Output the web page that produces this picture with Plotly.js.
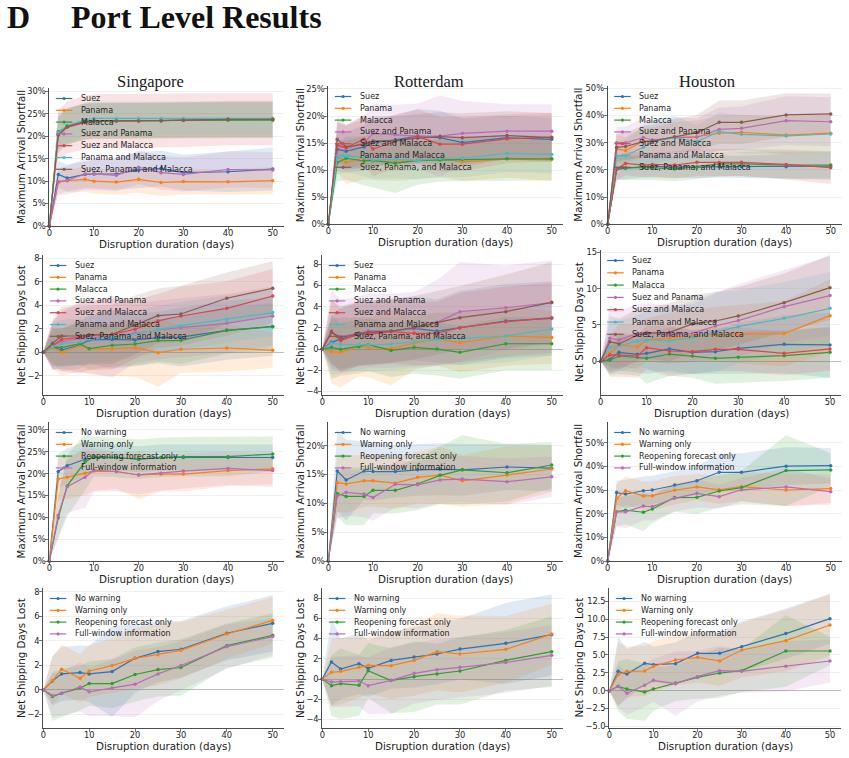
<!DOCTYPE html>
<html>
<head>
<meta charset="utf-8">
<script src="https://cdn.plot.ly/plotly-3.0.1.min.js"></script>
<style>
html, body { margin: 0; padding: 0; background: #fff; }
#chart { width: 849px; height: 758px; }
</style>
</head>
<body>
<div id="chart"></div>
<script>
// Disruption durations (days) shared by every panel
const days = [0, 2, 4, 8, 10, 15, 20, 25, 30, 40, 50];

const corridorNames = ['Suez', 'Panama', 'Malacca', 'Suez and Panama', 'Suez and Malacca',
  'Panama and Malacca', 'Suez, Panama, and Malacca'];
const infoNames = ['No warning', 'Warning only', 'Reopening forecast only', 'Full-window information'];

const portTitles = ['Singapore', 'Rotterdam', 'Houston'];

// Maximum arrival shortfall (%) by closed corridor — mean per duration
const sgpShortfall = [
  [0, 11.5, 10.7, 11.5, 11.6, 11.6, 12.5, 12.8, 11.9, 12.1, 12.7],
  [0, 9.7, 10.1, 10.4, 10.0, 9.8, 10.4, 9.7, 9.9, 9.85, 10.1],
  [0, 21.0, 22.2, 23.3, 23.5, 23.5, 23.5, 23.5, 23.6, 23.6, 23.6],
  [0, 9.9, 10.2, 11.6, 11.6, 11.3, 13.1, 11.9, 11.5, 12.6, 12.5],
  [0, 20.3, 22.0, 23.1, 23.4, 23.4, 23.5, 23.5, 23.6, 23.8, 23.8],
  [0, 20.8, 22.4, 23.7, 24.0, 24.0, 24.0, 24.0, 24.0, 24.0, 24.0],
  [0, 20.3, 22.2, 23.3, 23.4, 23.4, 23.4, 23.5, 23.6, 23.8, 23.8]
];
const sgpShortfallSpread = [
  [0, 3, 3, 3, 3.2, 3.5, 4, 4, 4, 4.5, 4.8],
  [0, 2.5, 2.5, 2.8, 2.8, 2.8, 3, 3, 2.8, 2.8, 3],
  [0, 4, 4, 4, 4, 4, 4, 4, 4, 4, 4],
  [0, 3, 3.2, 3.5, 3.5, 3.5, 3.8, 3.8, 3.8, 4, 4],
  [0, 5.5, 5.8, 6, 6, 6, 6, 6, 6, 5.8, 5.8],
  [0, 3.5, 3.8, 3.8, 3.8, 3.8, 3.8, 3.8, 3.8, 3.8, 3.8],
  [0, 4, 4, 4, 4, 4, 4, 4, 4, 4, 4]
];

const rtmShortfall = [
  [0, 13.85, 13.5, 14.3, 15.1, 15.6, 16.3, 16.0, 15.1, 16.0, 15.7],
  [0, 12.6, 11.4, 12.3, 11.7, 11.5, 11.8, 12.2, 11.5, 12.1, 12.0],
  [0, 11.4, 12.2, 11.7, 11.8, 11.3, 11.8, 11.9, 12.0, 12.1, 12.1],
  [0, 14.5, 14.0, 15.0, 16.8, 16.6, 16.3, 16.3, 16.8, 17.2, 17.2],
  [0, 14.65, 14.2, 15.7, 13.9, 15.3, 16.2, 14.8, 14.8, 15.8, 16.1],
  [0, 12.2, 12.6, 12.4, 11.9, 12.0, 11.8, 12.2, 12.2, 13.1, 12.9],
  [0, 15.7, 14.3, 14.8, 15.4, 15.4, 15.9, 16.2, 16.0, 16.4, 16.0]
];
const rtmShortfallSpread = [
  [0, 3.5, 3.5, 4, 4.5, 4.5, 5, 5, 4.5, 4, 4],
  [0, 3, 4, 4, 3.5, 3.5, 3.5, 3.5, 3.5, 3.5, 4],
  [0, 3.5, 4, 4.5, 5, 5.5, 4.5, 4, 4, 4, 4],
  [0, 4.5, 4.5, 5, 5.5, 5.5, 6, 7.5, 6, 5, 5],
  [0, 4, 4, 4.5, 5, 5, 5, 5, 5, 4.5, 4.5],
  [0, 3, 3, 3.5, 3.5, 3.5, 3.5, 3.5, 3.5, 3.5, 3.5],
  [0, 4, 4, 4.5, 4.5, 4.5, 4.5, 4.5, 4.5, 4.5, 4.5]
];

const hstShortfall = [
  [0, 20.2, 20.6, 21.2, 21.2, 21.0, 21.0, 21.2, 21.2, 21.2, 21.4],
  [0, 27.7, 27.1, 30.6, 30.6, 32.0, 32.2, 33.5, 33.8, 32.8, 33.5],
  [0, 20.6, 20.8, 20.8, 20.8, 20.3, 21.2, 22.2, 22.2, 21.8, 21.8],
  [0, 30.0, 30.0, 31.9, 31.0, 31.9, 32.0, 34.9, 35.3, 38.1, 37.7],
  [0, 20.3, 22.4, 21.8, 22.0, 21.8, 22.8, 22.7, 22.8, 22.0, 20.8],
  [0, 25.1, 25.2, 28.3, 30.4, 31.9, 30.4, 34.1, 33.1, 32.5, 33.2],
  [0, 28.3, 28.6, 30.4, 30.6, 32.2, 33.7, 37.5, 37.5, 40.2, 40.6]
];
const hstShortfallSpread = [
  [0, 4, 4, 4, 4, 4, 4, 4, 4, 4.5, 5],
  [0, 5, 5, 5, 5, 5.5, 6, 6.5, 6.5, 7, 7],
  [0, 4, 4.5, 4.5, 4.5, 4.5, 4.5, 4.5, 4.5, 5, 5],
  [0, 6, 6, 7, 7, 7.5, 7, 8, 8, 9, 9],
  [0, 4, 4.5, 4.5, 4.5, 5, 5, 5, 5, 5.5, 6],
  [0, 5, 6, 8, 8, 8, 6, 7, 7, 7, 7],
  [0, 5, 5, 6, 6, 6.5, 6.5, 8, 8, 8, 7.5]
];

// Net shipping days lost by closed corridor
const sgpDays = [
  [0, 0.48, 0.2, 0.62, 1.05, 1.1, 1.05, 1.25, 1.3, 1.87, 2.2],
  [0, 0.4, 0.0, 0.57, 0.31, 0.31, 0.4, -0.03, 0.26, 0.37, 0.17],
  [0, 0.48, 0.4, 0.74, 0.31, 0.6, 0.71, 1.0, 1.02, 1.87, 2.18],
  [0, 0.62, 0.9, 1.19, 1.25, 1.33, 1.62, 1.9, 2.1, 2.47, 3.09],
  [0, 0.54, 1.1, 1.28, 1.47, 1.53, 1.96, 2.67, 3.09, 3.74, 4.79],
  [0, 0.48, 0.74, 0.9, 1.13, 1.28, 1.53, 1.96, 2.27, 2.81, 3.38],
  [0, 0.77, 1.39, 1.39, 1.47, 1.53, 2.33, 3.12, 3.26, 4.6, 5.45]
];
const sgpDaysSpread = [
  [0, 1.5, 1.8, 2, 2, 2.5, 2.2, 2.2, 2.5, 2.5, 2.5],
  [0, 1.8, 2, 2.2, 2.2, 2.3, 2.5, 2.9, 2, 2, 1.5],
  [0, 1.5, 1.6, 1.8, 1.8, 1.8, 1.8, 1.8, 2, 2, 2],
  [0, 2, 2.5, 3, 3, 3.5, 2.5, 2.5, 2.5, 2.5, 2.5],
  [0, 2, 2.5, 3, 3, 3, 2.5, 2.3, 2.5, 2.3, 2.3],
  [0, 2, 2, 2, 2, 2, 2, 2, 2, 2, 2],
  [0, 2, 2.5, 2.5, 2.5, 2.5, 2.5, 2.3, 2.4, 2.2, 2.3]
];

const rtmDays = [
  [0, 0.63, 0.94, 1.32, 1.57, 1.7, 1.95, 1.7, 2.0, 2.65, 2.9],
  [0, -0.25, -0.31, 0.22, 0.13, 0.06, 0.54, 0.94, 0.6, 1.23, 1.1],
  [0, 0.16, -0.03, 0.22, 0.41, -0.13, 0.16, 0.0, -0.31, 0.5, 0.5],
  [0, 1.57, 1.17, 1.48, 1.73, 1.73, 1.89, 2.52, 3.53, 3.9, 4.38],
  [0, 1.7, 0.79, 1.48, 1.39, 1.64, 1.48, 1.48, 2.02, 2.58, 2.96],
  [0, 0.54, 0.44, 0.44, 0.38, 0.47, 0.69, 0.91, 1.0, 1.23, 1.89],
  [0, 1.57, 1.07, 1.48, 1.57, 1.7, 2.02, 2.49, 2.96, 3.53, 4.41]
];
const rtmDaysSpread = [
  [0, 2.5, 3, 3, 3, 3, 3, 3, 3.5, 3.5, 3.5],
  [0, 3, 3.3, 2.8, 2.8, 3.5, 2.5, 2.5, 2.8, 2.8, 2.5],
  [0, 3, 2.5, 2.5, 2.5, 2.5, 2.5, 2.5, 2.5, 2.5, 2.5],
  [0, 4, 3.5, 3.5, 3.5, 3.5, 3.5, 4, 4.7, 4, 4],
  [0, 3, 3, 3, 3, 3, 3, 3, 3.3, 3.3, 3.3],
  [0, 2.5, 2.5, 2.5, 2.5, 2.5, 2.5, 2.5, 2.5, 2.5, 2.5],
  [0, 3, 3, 3, 3, 3, 3, 3, 3, 3.5, 3.8]
];

const hstDays = [
  [0, 0.28, 1.24, 0.96, 1.1, 1.7, 1.24, 1.33, 1.79, 2.34, 2.25],
  [0, 1.1, 2.25, 1.97, 2.94, 3.17, 3.53, 3.72, 3.76, 3.81, 6.28],
  [0, 0.14, 0.73, 0.55, 0.41, 1.0, 0.73, 0.41, 0.55, 0.78, 1.24],
  [0, 3.17, 2.94, 3.85, 3.99, 3.72, 3.85, 4.86, 5.6, 7.52, 9.04],
  [0, 0.87, 0.87, 0.73, 1.88, 1.42, 1.33, 1.65, 1.65, 1.1, 1.7],
  [0, 1.93, 2.11, 2.8, 2.94, 2.8, 3.26, 3.99, 4.77, 5.92, 7.29],
  [0, 2.7, 2.39, 3.62, 3.85, 3.99, 5.14, 5.55, 6.24, 8.07, 10.14]
];
const hstDaysSpread = [
  [0, 2, 2.5, 2.5, 2.8, 3, 3, 3, 3.5, 4, 4.5],
  [0, 2.5, 3, 3, 3, 3.5, 3.5, 3.8, 4, 4.5, 5],
  [0, 2, 2.5, 2.5, 3.5, 3, 3, 3.5, 3.5, 3.5, 3.5],
  [0, 4.5, 4, 4, 4, 4, 4, 4.5, 5, 5, 5.5],
  [0, 3, 3, 3, 3, 3.5, 3, 3, 3, 3, 3],
  [0, 3.5, 3.5, 3.5, 4, 4.5, 5, 5.5, 5, 5, 5],
  [0, 3.5, 3.5, 3.5, 3.5, 4, 4, 4, 4, 4, 4.5]
];

// Maximum arrival shortfall (%) by information scenario
const sgpInfoShortfall = [
  [0, 20.5, 21.8, 23.3, 23.7, 23.7, 23.3, 23.7, 23.7, 23.7, 23.7],
  [0, 18.8, 19.2, 20.1, 20.6, 20.5, 19.7, 19.9, 19.9, 20.7, 21.1],
  [0, 9.9, 17.2, 22.7, 23.9, 23.7, 23.3, 23.7, 23.9, 23.9, 24.5],
  [0, 10.5, 17.0, 19.2, 20.8, 20.5, 19.7, 20.1, 20.6, 21.2, 20.7]
];
const sgpInfoShortfallSpread = [
  [0, 4, 4, 4, 3, 3, 3, 3, 3, 3, 3],
  [0, 5, 5, 5, 4.5, 4, 5.5, 4, 4, 3.5, 3.5],
  [0, 5, 7, 6.5, 4.5, 4.5, 4.5, 4.5, 4.5, 4.5, 4],
  [0, 5, 6, 7, 5, 4.5, 4.5, 4, 4, 3.8, 3.8]
];

const rtmInfoShortfall = [
  [0, 15.6, 14.05, 15.6, 15.5, 15.5, 15.8, 15.9, 15.8, 16.3, 16.1],
  [0, 13.6, 13.35, 13.9, 13.9, 13.5, 14.5, 14.9, 13.9, 14.9, 15.95],
  [0, 11.7, 11.2, 11.2, 12.25, 12.25, 13.35, 14.85, 15.8, 15.3, 16.65],
  [0, 11.3, 11.9, 11.6, 11.0, 13.3, 13.2, 14.05, 14.2, 13.75, 14.6]
];
const rtmInfoShortfallSpread = [
  [0, 7, 7, 5, 5, 4.5, 4.5, 4.5, 4.5, 4, 4],
  [0, 5, 5, 4.5, 4.5, 4.5, 4.5, 5, 4.5, 5, 4],
  [0, 4, 5, 5, 4, 4, 4.5, 5, 6, 5, 4],
  [0, 4, 4, 4, 4, 4, 4, 4, 4, 4, 3.5]
];

const hstInfoShortfall = [
  [0, 28.9, 28.3, 29.7, 30.0, 32.1, 33.9, 37.5, 37.5, 40.1, 40.3],
  [0, 26.5, 29.7, 27.5, 27.6, 29.9, 31.3, 30.1, 31.4, 30.0, 30.6],
  [0, 20.8, 21.5, 20.6, 22.0, 26.8, 26.9, 29.6, 31.0, 38.2, 38.5],
  [0, 20.8, 20.8, 23.2, 23.0, 26.5, 28.6, 27.2, 30.1, 31.3, 29.3]
];
const hstInfoShortfallSpread = [
  [0, 5, 6, 6, 6, 6, 6, 8, 8, 8, 7.5],
  [0, 6, 6, 6, 6, 6, 5.5, 6, 6, 7, 6],
  [0, 6, 6, 8, 6, 6, 7, 7, 7, 15, 7],
  [0, 6, 7, 6, 6, 5.5, 6, 5, 5, 8, 5.5]
];

// Net shipping days lost by information scenario
const sgpInfoDays = [
  [0, 0.73, 1.3, 1.41, 1.3, 1.49, 2.57, 3.12, 3.31, 4.61, 5.42],
  [0, 0.76, 1.68, 0.95, 1.54, 1.98, 2.57, 2.87, 3.22, 4.55, 5.66],
  [0, -0.54, -0.27, 0.14, 0.51, 0.51, 1.25, 1.65, 1.82, 3.6, 4.44],
  [0, -0.46, -0.3, 0.24, -0.16, 0.16, 0.46, 1.3, 1.98, 3.52, 4.34]
];
const sgpInfoDaysSpread = [
  [0, 2, 2.2, 2.2, 2.3, 3.7, 2.8, 2.5, 2.3, 2.2, 2.3],
  [0, 2, 2, 2, 2.1, 2.2, 2.5, 2.5, 2.3, 2, 1.9],
  [0, 2, 2, 1.8, 1.8, 2, 2.2, 2.2, 2.3, 1.8, 1.8],
  [0, 1.8, 1.8, 2, 2, 2.3, 2.7, 2.2, 2, 1.8, 1.5]
];

const rtmInfoDays = [
  [0, 1.68, 0.99, 1.51, 1.05, 1.84, 2.17, 2.47, 2.96, 3.52, 4.38],
  [0, 0.66, 0.76, 1.15, 1.35, 1.32, 1.84, 2.7, 2.47, 2.93, 4.44],
  [0, -0.66, -0.46, -0.62, 0.82, -0.16, 0.23, 0.49, 0.79, 1.84, 2.7],
  [0, -0.3, -0.26, -0.2, -0.66, -0.13, 0.56, 0.92, 1.15, 1.64, 2.34]
];
const rtmInfoDaysSpread = [
  [0, 4.3, 3, 3, 2.8, 2.8, 3, 3, 3, 4, 4],
  [0, 3.3, 3.3, 3, 2.8, 3.3, 3.5, 3.8, 3.8, 3.3, 3],
  [0, 3, 3.5, 3, 2.7, 3.2, 3.5, 3, 3.3, 3, 3.5],
  [0, 2.5, 2.5, 2.5, 2.8, 3.3, 3, 3, 3, 3, 3]
];

const hstInfoDays = [
  [0, 2.7, 2.33, 3.82, 3.64, 3.78, 5.22, 5.22, 6.16, 7.98, 10.07],
  [0, 2.24, 2.7, 2.75, 3.4, 4.29, 4.66, 4.15, 5.69, 7.0, 9.19],
  [0, 0.61, 0.23, -0.19, 0.23, 1.07, 1.87, 2.47, 2.8, 5.55, 5.55],
  [0, 0.61, -0.37, 0.75, 1.45, 0.98, 2.0, 2.8, 2.71, 3.4, 4.15]
];
const hstInfoDaysSpread = [
  [0, 4.8, 3.5, 3, 2.5, 3, 3, 3, 3.5, 3.5, 3.5],
  [0, 4.5, 3.5, 3.5, 3.5, 3.5, 3.5, 3.5, 3.8, 4.3, 4.3],
  [0, 3.5, 4.2, 4, 3, 2.5, 3, 3.5, 3, 5, 2],
  [0, 3, 3, 3, 3, 4.5, 3.5, 3.5, 3, 3.5, 3]
];

// ---- styling ----
const corridorColors = ['#2f73b3', '#ff7f0e', '#2ca02c', '#bb6abb', '#e0444a', '#47bcc4', '#8c5a4e'];
const infoColors = ['#2f73b3', '#ff7f0e', '#2ca02c', '#bb6abb'];

const W = 849, H = 758;
const X_MAX = 52.5;
const SANS = 'DejaVu Sans, sans-serif';
const SERIF = 'Liberation Serif, DejaVu Serif, serif';
const SHORT = 'Maximum Arrival Shortfall';
const NET = 'Net Shipping Days Lost';
const XTITLE = 'Disruption duration (days)';
const YTITLE_X = [21, 300, 578.5];   // centre of the rotated y titles, per column

// box: [pixel of day 0, pixel of day 50, top pixel, bottom pixel]
const panels = [
  { mean: sgpShortfall, spread: sgpShortfallSpread, names: corridorNames, colors: corridorColors, col: 0,
    box: [49.3, 272.7, 88, 226], yr: [0, 30.78], dtick: 5, suffix: '%', ytitle: SHORT },
  { mean: rtmShortfall, spread: rtmShortfallSpread, names: corridorNames, colors: corridorColors, col: 1,
    box: [328.3, 551.7, 86, 224.3], yr: [0, 25.55], dtick: 5, suffix: '%', ytitle: SHORT },
  { mean: hstShortfall, spread: hstShortfallSpread, names: corridorNames, colors: corridorColors, col: 2,
    box: [607.7, 830.7, 86, 224.3], yr: [0, 50.85], dtick: 10, suffix: '%', ytitle: SHORT },
  { mean: sgpDays, spread: sgpDaysSpread, names: corridorNames, colors: corridorColors, col: 0,
    box: [43.3, 272.7, 255, 395], yr: [-3.63, 8.28], dtick: 2, ytitle: NET },
  { mean: rtmDays, spread: rtmDaysSpread, names: corridorNames, colors: corridorColors, col: 1,
    box: [322.3, 551.7, 255, 395], yr: [-4.34, 8.88], dtick: 2, ytitle: NET },
  { mean: hstDays, spread: hstDaysSpread, names: corridorNames, colors: corridorColors, col: 2,
    box: [600.7, 830, 250, 395], yr: [-4.64, 15.32], dtick: 5, ytitle: NET, legendStep: 12.3 },
  { mean: sgpInfoShortfall, spread: sgpInfoShortfallSpread, names: infoNames, colors: infoColors, col: 0,
    box: [49.3, 272.7, 422, 561], yr: [0, 31.83], dtick: 5, suffix: '%', ytitle: SHORT },
  { mean: rtmInfoShortfall, spread: rtmInfoShortfallSpread, names: infoNames, colors: infoColors, col: 1,
    box: [328.3, 551.7, 422, 561], yr: [0, 24.1], dtick: 5, suffix: '%', ytitle: SHORT },
  { mean: hstInfoShortfall, spread: hstInfoShortfallSpread, names: infoNames, colors: infoColors, col: 2,
    box: [607.7, 830.7, 422, 561], yr: [0, 58.75], dtick: 10, suffix: '%', ytitle: SHORT },
  { mean: sgpInfoDays, spread: sgpInfoDaysSpread, names: infoNames, colors: infoColors, col: 0,
    box: [43.3, 272.7, 588, 728], yr: [-3.11, 8.3], dtick: 2, ytitle: NET },
  { mean: rtmInfoDays, spread: rtmInfoDaysSpread, names: infoNames, colors: infoColors, col: 1,
    box: [322.3, 551.7, 588, 728], yr: [-4.84, 8.99], dtick: 2, ytitle: NET },
  { mean: hstInfoDays, spread: hstInfoDaysSpread, names: infoNames, colors: infoColors, col: 2,
    box: [609.3, 830, 588, 728], yr: [-5.22, 14.36], dtick: 2.5, fmt: '.1f', ytitle: NET }
];

function rgba(hex, a) {
  const n = parseInt(hex.slice(1), 16);
  return `rgba(${(n >> 16) & 255},${(n >> 8) & 255},${n & 255},${a})`;
}
const px = x => x / W;
const py = y => 1 - y / H;

const traces = [];
const shapes = [];
const annotations = [];
const layout = {
  width: W, height: H,
  margin: { l: 0, r: 0, t: 0, b: 0 },
  paper_bgcolor: '#fff', plot_bgcolor: '#fff',
  showlegend: false,
  font: { family: SANS, color: '#262626' },
  shapes, annotations
};

const tickFont = { size: 8.3, family: SANS, color: '#262626' };
const titleFont = { size: 10.3, family: SANS, color: '#1a1a1a' };

panels.forEach((p, i) => {
  const n = i === 0 ? '' : String(i + 1);
  const xa = 'x' + n, ya = 'y' + n;
  const [x0, x50, top, bot] = p.box;
  const xRight = x0 + (x50 - x0) * X_MAX / 50;
  const hasNegative = p.yr[0] < 0;

  layout['xaxis' + n] = {
    domain: [px(x0), px(xRight)], range: [0, X_MAX], anchor: ya,
    showline: true, linecolor: '#4d4d4d', linewidth: 1,
    ticks: 'outside', ticklen: 3, tickwidth: 0.8, tickcolor: '#4d4d4d',
    tickvals: [0, 10, 20, 30, 40, 50], ticklabelstandoff: -4,
    tickfont: tickFont,
    showgrid: false, zeroline: false, fixedrange: true
  };
  layout['yaxis' + n] = {
    domain: [py(bot), py(top)], range: p.yr, anchor: xa,
    showline: true, linecolor: '#4d4d4d', linewidth: 1,
    ticks: 'outside', ticklen: 3, tickwidth: 0.8, tickcolor: '#4d4d4d',
    dtick: p.dtick, tick0: 0, ticklabelstandoff: -2,
    ticksuffix: p.suffix || '', tickformat: p.fmt || '',
    tickfont: tickFont,
    showgrid: true, gridcolor: '#ececec', gridwidth: 0.8,
    zeroline: hasNegative, zerolinecolor: '#bcbcbc', zerolinewidth: 1,
    fixedrange: true
  };

  // axis titles
  annotations.push({
    text: XTITLE, xref: 'paper', yref: 'paper',
    x: px((x0 + xRight) / 2), y: py(bot + 17.5), xanchor: 'center', yanchor: 'middle',
    showarrow: false, font: titleFont
  });
  annotations.push({
    text: p.ytitle, xref: 'paper', yref: 'paper', textangle: -90,
    x: px(YTITLE_X[p.col]), y: py((top + bot) / 2), xanchor: 'center', yanchor: 'middle',
    showarrow: false, font: titleFont
  });

  // shaded spread bands
  p.mean.forEach((m, k) => {
    const hi = m.map((v, j) => v + p.spread[k][j]);
    const lo = m.map((v, j) => v - p.spread[k][j]);
    traces.push({
      x: days.concat(days.slice().reverse()),
      y: hi.concat(lo.slice().reverse()),
      xaxis: xa, yaxis: ya, mode: 'lines', fill: 'toself',
      fillcolor: rgba(p.colors[k], 0.15), line: { width: 0 },
      hoverinfo: 'skip', showlegend: false
    });
  });

  // mean lines with markers
  p.mean.forEach((m, k) => {
    traces.push({
      x: days, y: m, xaxis: xa, yaxis: ya, name: p.names[k],
      mode: 'lines+markers', cliponaxis: false,
      line: { color: p.colors[k], width: 1.2 },
      marker: { color: p.colors[k], size: 3.5 },
      showlegend: false
    });
  });

  // compact in-panel legend
  const step = p.legendStep || 11.8;
  p.names.forEach((name, k) => {
    const y = top + 10.5 + k * step;
    const lx0 = x0 + 6.5, lx1 = x0 + 23, mx = (lx0 + lx1) / 2;
    shapes.push({
      type: 'line', xref: 'paper', yref: 'paper',
      x0: px(lx0), x1: px(lx1), y0: py(y), y1: py(y),
      line: { color: p.colors[k], width: 1.2 }
    });
    shapes.push({
      type: 'circle', xref: 'paper', yref: 'paper',
      x0: px(mx - 1.6), x1: px(mx + 1.6), y0: py(y + 1.6), y1: py(y - 1.6),
      fillcolor: p.colors[k], line: { width: 0 }
    });
    annotations.push({
      text: name, xref: 'paper', yref: 'paper',
      x: px(x0 + 29.5), y: py(y), xanchor: 'left', yanchor: 'middle',
      showarrow: false, font: { size: 8, family: SANS, color: '#262626' }
    });
  });
});

// port column headings
[[150, portTitles[0]], [429, portTitles[1]], [707, portTitles[2]]].forEach(([cx, t]) => {
  annotations.push({
    text: t, xref: 'paper', yref: 'paper', x: px(cx), y: py(81),
    xanchor: 'center', yanchor: 'middle', showarrow: false,
    font: { size: 16.5, family: SERIF, color: '#1a1a1a' }
  });
});

// section heading
annotations.push({
  text: '<b>D</b>', xref: 'paper', yref: 'paper', x: px(5), y: py(17),
  xanchor: 'left', yanchor: 'middle', showarrow: false,
  font: { size: 32, family: SERIF, color: '#111' }
});
annotations.push({
  text: '<b>Port Level Results</b>', xref: 'paper', yref: 'paper', x: px(69), y: py(17),
  xanchor: 'left', yanchor: 'middle', showarrow: false,
  font: { size: 32, family: SERIF, color: '#111' }
});

Plotly.newPlot('chart', traces, layout, { staticPlot: true, displayModeBar: false });
</script>
</body>
</html>
